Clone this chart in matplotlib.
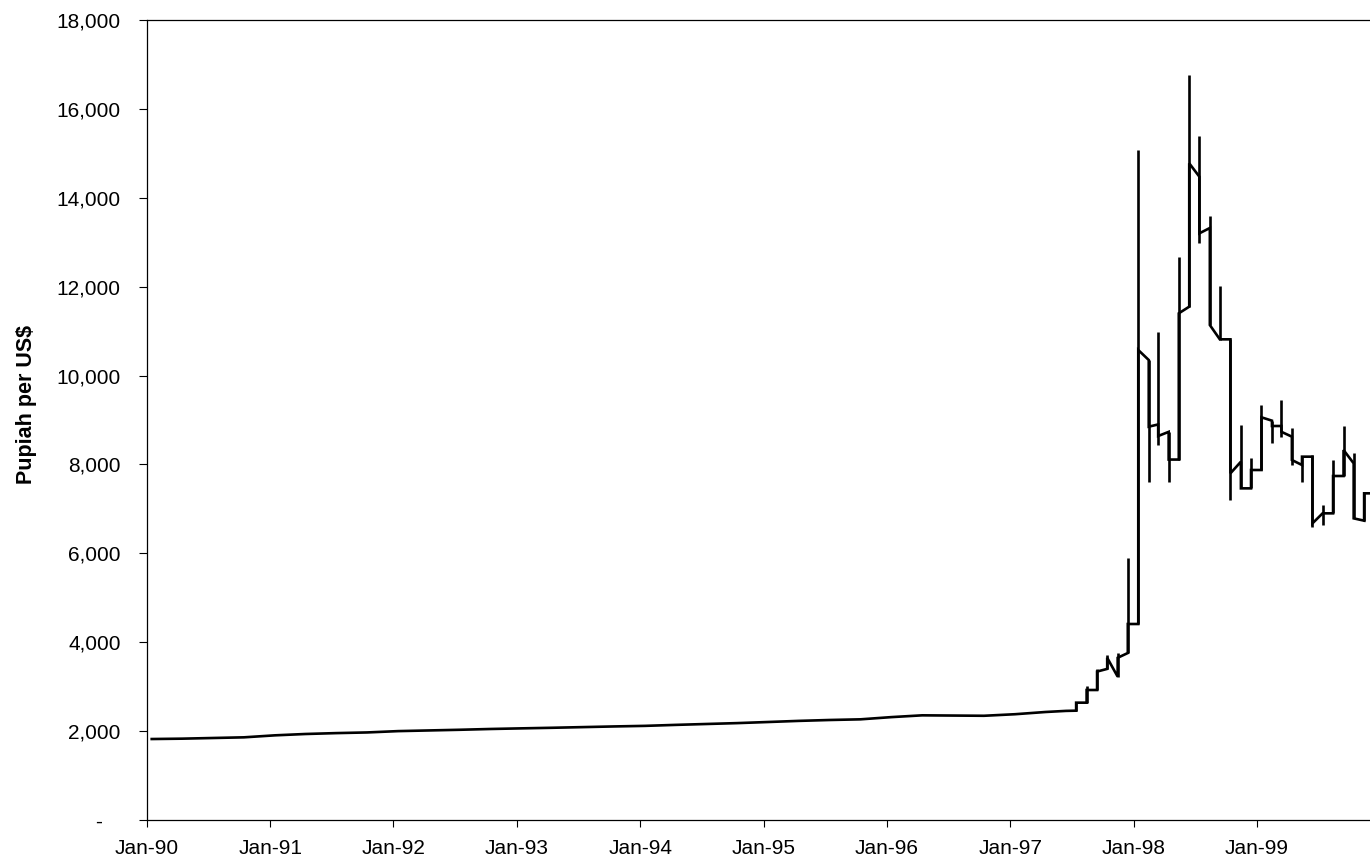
import matplotlib
matplotlib.use("Agg")
import matplotlib.pyplot as plt
import matplotlib.ticker as mticker
import numpy as np
from datetime import date

plt.rcParams['font.family'] = ['Liberation Sans', 'DejaVu Sans']

# --- Pre-crisis period (roughly quarterly readings), Rupiah per US$ ---
calm_dates = [
    "1990-01-15", "1990-04-15", "1990-07-15", "1990-10-15",
    "1991-01-15", "1991-04-15", "1991-07-15", "1991-10-15",
    "1992-01-15", "1992-04-15", "1992-07-15", "1992-10-15",
    "1993-01-15", "1993-04-15", "1993-07-15", "1993-10-15",
    "1994-01-15", "1994-04-15", "1994-07-15", "1994-10-15",
    "1995-01-15", "1995-04-15", "1995-07-15", "1995-10-15",
    "1996-01-15", "1996-04-15", "1996-07-15", "1996-10-15",
    "1997-01-15", "1997-04-15", "1997-06-15", "1997-07-15",
]
calm_values = [
    1822, 1830, 1845, 1860,
    1905, 1935, 1955, 1970,
    2000, 2015, 2030, 2048,
    2062, 2075, 2090, 2105,
    2118, 2140, 2160, 2180,
    2205, 2230, 2250, 2265,
    2315, 2355, 2350, 2345,
    2380, 2430, 2455, 2460,
]

# --- Crisis period: monthly open / close / high / low (mid-month) ---
crisis_months = [
    "1997-07-15", "1997-08-15", "1997-09-15", "1997-10-15", "1997-11-15", "1997-12-15",
    "1998-01-15", "1998-02-15", "1998-03-15", "1998-04-15", "1998-05-15", "1998-06-15",
    "1998-07-15", "1998-08-15", "1998-09-15", "1998-10-15", "1998-11-15", "1998-12-15",
    "1999-01-15", "1999-02-15", "1999-03-15", "1999-04-15", "1999-05-15", "1999-06-15",
    "1999-07-15", "1999-08-15", "1999-09-15", "1999-10-15", "1999-11-15",
]
crisis_open = [
    2640, 2925, 3340, 3650, 3650, 4410,
    10575, 8850, 8640, 8110, 11400, 14775,
    13200, 11137, 10815, 7800, 7462, 7875,
    9060, 8865, 8734, 8100, 8175, 6675,
    6900, 7740, 8325, 6787, 7350,
]
crisis_close = [
    2640, 2925, 3400, 3225, 3757, 4410,
    10350, 8900, 8733, 8110, 11550, 14475,
    13320, 10800, 10815, 8062, 7462, 7875,
    8985, 8865, 8625, 7987, 8175, 6900,
    6900, 7740, 8025, 6735, 7350,
]
crisis_high = [
    2640, 3015, 3400, 3712, 3757, 5895,
    15075, 10350, 10985, 8733, 12670, 16762,
    15390, 13590, 12015, 10815, 8887, 8137,
    9337, 8985, 9450, 8820, 8175, 8212,
    7087, 8100, 8865, 8265, 7350,
]
crisis_low = [
    2460, 2640, 2925, 3400, 3225, 3757,
    4410, 7610, 8437, 7610, 8110, 11550,
    12975, 11137, 10800, 7200, 7462, 7462,
    7875, 8475, 8625, 7987, 7612, 6600,
    6637, 6900, 7740, 6787, 6735,
]

year_ticks = [date(y, 1, 1) for y in range(1990, 2000)]
year_labels = ["Jan-%02d" % (y % 100) for y in range(1990, 2000)]
y_ticks = list(range(0, 18001, 2000))

fig = plt.figure(figsize=(13.70, 8.64), dpi=100)
ax = fig.add_axes([147 / 1370, 44 / 864, 1233 / 1370, 800 / 864])

cd = [np.datetime64(d) for d in calm_dates]
md = [np.datetime64(d) for d in crisis_months]
md_next = md[1:] + [np.datetime64("1999-12-15")]

# build line path: calm part then monthly segments
xs = list(cd)
ys = list(calm_values)
for d0, d1, o, c in zip(md, md_next, crisis_open, crisis_close):
    xs += [d0, d1]
    ys += [o, c]
ax.plot(xs, ys, color="black", lw=1.9, solid_joinstyle="miter")
ax.vlines(md, crisis_low, crisis_high, color="black", lw=1.9)

ax.set_xlim(date(1990, 1, 1), date(2000, 1, 1))
ax.set_ylim(0, 18000)
ax.set_xticks(year_ticks)
ax.set_xticklabels(year_labels)
ax.set_yticks(y_ticks)

def yfmt(v, pos):
    if v == 0:
        return "-   "
    return "{:,}".format(int(v))

ax.yaxis.set_major_formatter(mticker.FuncFormatter(yfmt))
ax.tick_params(axis="y", direction="out", length=6, width=0.8, pad=13, labelsize=15)
ax.tick_params(axis="x", direction="out", length=5, width=0.8, pad=9, labelsize=15)
for s in ["left", "bottom", "top"]:
    ax.spines[s].set_linewidth(0.9)
    ax.spines[s].set_color("black")
ax.spines["right"].set_visible(False)

ax.set_ylabel("Pupiah per US$", fontsize=15.5, fontweight="bold")
ax.yaxis.set_label_coords((37 - 147) / 1233, (820 - 405) / 800)

fig.savefig("out.png", dpi=100)
